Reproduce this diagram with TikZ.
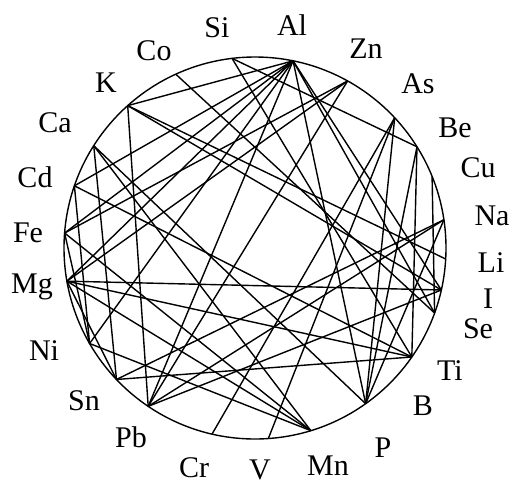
\documentclass[tikz,border=0pt]{standalone}
\usepackage{fontspec}
\setmainfont{Liberation Serif}
\usetikzlibrary{calc}
\begin{document}
\begin{tikzpicture}[x=1pt,y=-1pt,
  lbl/.style={anchor=base,inner sep=0pt,font=\fontsize{30}{32}\selectfont},
  chord/.style={line width=1.4pt,black},
  ring/.style={line width=1.4pt,black}]
\useasboundingbox (0,0) rectangle (514,485);
\coordinate (C) at (255,248);
\draw[ring] (C) circle (191);
\foreach \n/\a in {Si/-96.9,Al/-78.5,Zn/-61,As/-43,Be/-32,Cu/-22,Na/-8.5,Li/3.3,I/12.7,Se/19.9,Ti/34.8,P/54.6,Mn/73,V/86,Cr/103,Pb/124,Sn/136.5,Ni/150,Mg/170,Fe/-175.5,Cd/-161,Ca/-147.6,K/-131.8,Co/-114.5}
  \coordinate (\n) at ($(C)+(\a:191)$);
\node[lbl] (tSi) at (217,37) {Si};
\node[lbl] (tAl) at (292,35) {Al};
\node[lbl] (tZn) at (366,58) {Zn};
\node[lbl] (tAs) at (418,93) {As};
\node[lbl] (tBe) at (455,137) {Be};
\node[lbl] (tCu) at (478,177) {Cu};
\node[lbl] (tNa) at (492,225) {Na};
\node[lbl] (tLi) at (491,272) {Li};
\node[lbl] (tI) at (488,308) {I};
\node[lbl] (tSe) at (478,338) {Se};
\node[lbl] (tTi) at (450,380) {Ti};
\node[lbl] (tB) at (423,415) {B};
\node[lbl] (tP) at (383,457) {P};
\node[lbl] (tMn) at (328,475) {Mn};
\node[lbl] (tV) at (260,479) {V};
\node[lbl] (tCr) at (194,477) {Cr};
\node[lbl] (tPb) at (131,447) {Pb};
\node[lbl] (tSn) at (84,410) {Sn};
\node[lbl] (tNi) at (44,360) {Ni};
\node[lbl] (tMg) at (32,293) {Mg};
\node[lbl] (tFe) at (28,242) {Fe};
\node[lbl] (tCd) at (35,187) {Cd};
\node[lbl] (tCa) at (55,132) {Ca};
\node[lbl] (tK) at (106,92) {K};
\node[lbl] (tCo) at (154,60) {Co};
\foreach \u/\v in {Al/K,Al/Cd,Al/Fe,Al/Mg,Al/Ni,Al/Pb,Al/P,Al/Se,Al/I,
  Si/Be,Si/Ti,Co/Se,K/Pb,K/Li,K/I,Ca/P,Ca/Mn,Ca/Sn,
  Cd/Ti,Cd/Ni,Fe/Zn,Fe/Mn,Fe/Ni,Mg/Zn,Mg/Ti,Mg/I,Mg/Sn,Mg/Mn,
  Zn/Pb,As/V,As/Cr,As/P,Be/P,Be/Ti,Cu/Se,Na/Pb,Na/Sn,I/Pb,Ni/Mn,Sn/Ti,Na/P}
  \draw[chord] (\u) -- (\v);
\end{tikzpicture}
\end{document}
